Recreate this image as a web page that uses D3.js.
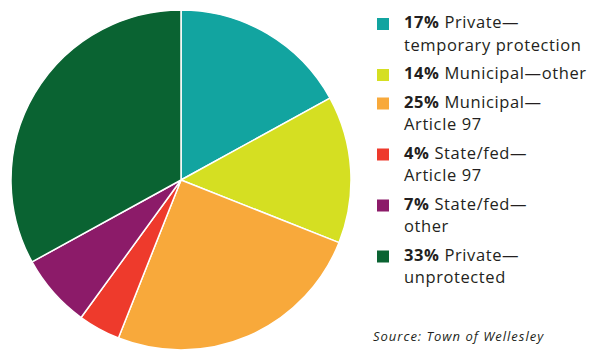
<!DOCTYPE html>
<html><head><meta charset="utf-8">
<script src="https://cdn.jsdelivr.net/npm/d3@7"></script>
<style>
html,body{margin:0;padding:0;background:#fff;}
svg{display:block;}
text{font-family:"Open Sans","Noto Sans",sans-serif;fill:#231f20;}
</style></head>
<body>
<svg id="chart" width="594" height="350"></svg>
<script>
const categories = ["Private\u2014temporary protection","Municipal\u2014other","Municipal\u2014Article 97","State/fed\u2014Article 97","State/fed\u2014other","Private\u2014unprotected"];
const values = [17, 14, 25, 4, 7, 33];
const colors = ["#12a4a0","#d5df22","#f8a93b","#ee3a2c","#8c1b69","#0a6332"];
const legendLines = [
  ["Private\u2014", "temporary protection"],
  ["Municipal\u2014other"],
  ["Municipal\u2014", "Article 97"],
  ["State/fed\u2014", "Article 97"],
  ["State/fed\u2014", "other"],
  ["Private\u2014", "unprotected"]
];
const source = "Source: Town of Wellesley";

const svg = d3.select("#chart");
const cx = 181, cy = 180, r = 170;
const pie = d3.pie().sort(null).value(d => d.v);
const arc = d3.arc().innerRadius(0).outerRadius(r);
const data = values.map((v,i)=>({v, c: colors[i], name: categories[i]}));
const g = svg.append("g").attr("transform", `translate(${cx},${cy})`);
g.selectAll("path").data(pie(data)).join("path")
  .attr("d", arc)
  .attr("fill", d => d.data.c)
  .attr("stroke", "#fff")
  .attr("stroke-width", 1.5)
  .attr("stroke-linejoin","round");

// legend
const lx = 377, tx = 404, lineH = 22.5, groupGap = 6;
let y = 28;
const leg = svg.append("g");
data.forEach((d,i) => {
  leg.append("rect").attr("x", lx).attr("y", y - 10).attr("width", 12).attr("height", 12).attr("fill", d.c);
  legendLines[i].forEach((ln, j) => {
    const t = leg.append("text").attr("x", tx).attr("y", y + j*lineH)
      .attr("font-size", 16.5).attr("letter-spacing", 0.6);
    if (j === 0) {
      t.append("tspan").attr("font-weight", 700).text(values[i] + "%");
      t.append("tspan").text(" " + ln);
    } else t.text(ln);
  });
  y += legendLines[i].length * lineH + groupGap;
});

svg.append("text").attr("x", 373).attr("y", 341).attr("font-size", 13).attr("font-style","italic")
  .attr("letter-spacing", 1)
  .text(source);
</script>
</body></html>
